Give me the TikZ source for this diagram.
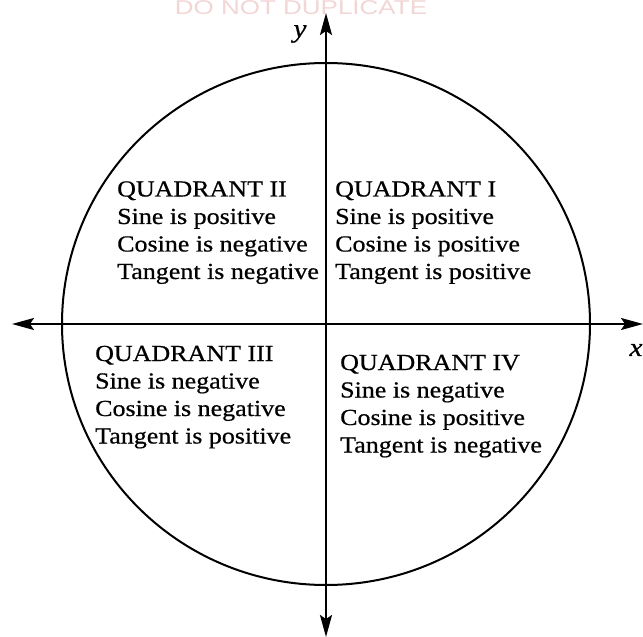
\documentclass[tikz,border=0pt]{standalone}
\usepackage{fontspec}
\setmainfont{Liberation Serif}[FakeStretch=1.13, FakeBold=0.6]
\newfontfamily\markfont{Liberation Sans}[FakeStretch=1.3]
\usetikzlibrary{arrows.meta}
\definecolor{markpink}{RGB}{242,214,214}
\begin{document}
\begin{tikzpicture}[x=1pt, y=1pt, >={Stealth[length=22pt, width=12pt, inset=4pt]},
        axis/.style={line width=2pt},
        quad/.style={anchor=base west, inner sep=0pt, align=left, font=\fontsize{23}{27.5}\selectfont},
        axislabel/.style={inner sep=0pt, font=\fontsize{26}{26}\selectfont\itshape}]
    \useasboundingbox (-326,-313) rectangle (317,324);
    \node[font=\markfont\fontsize{20}{20}\selectfont, text=markpink, inner sep=0pt] (mark) at (-25,316) {DO NOT DUPLICATE};
    \draw[line width=2pt] (0,0) ellipse [x radius=264, y radius=261];
    \coordinate (o) at (0,0);
    \coordinate (xl) at (-314,0);
    \coordinate (xr) at (317,0);
    \coordinate (yt) at (0,311);
    \coordinate (yb) at (0,-313);
    \draw[axis, <->] (xl) -- (xr);
    \draw[axis, <->] (yt) -- (yb);
    \node[axislabel] (ylab) at (-26,290) {y};
    \node[axislabel] (xlab) at (310,-26) {x};
    % base anchor sits on the last line
    \node[quad] (q2) at (-209,45) {QUADRANT II\\Sine is positive\\Cosine is negative\\Tangent is negative};
    \node[quad] (q1) at (9,45) {QUADRANT I\\Sine is positive\\Cosine is positive\\Tangent is positive};
    \node[quad] (q3) at (-231,-119.5) {QUADRANT III\\Sine is negative\\Cosine is negative\\Tangent is positive};
    \node[quad] (q4) at (14,-128.5) {QUADRANT IV\\Sine is negative\\Cosine is positive\\Tangent is negative};
\end{tikzpicture}
\end{document}
